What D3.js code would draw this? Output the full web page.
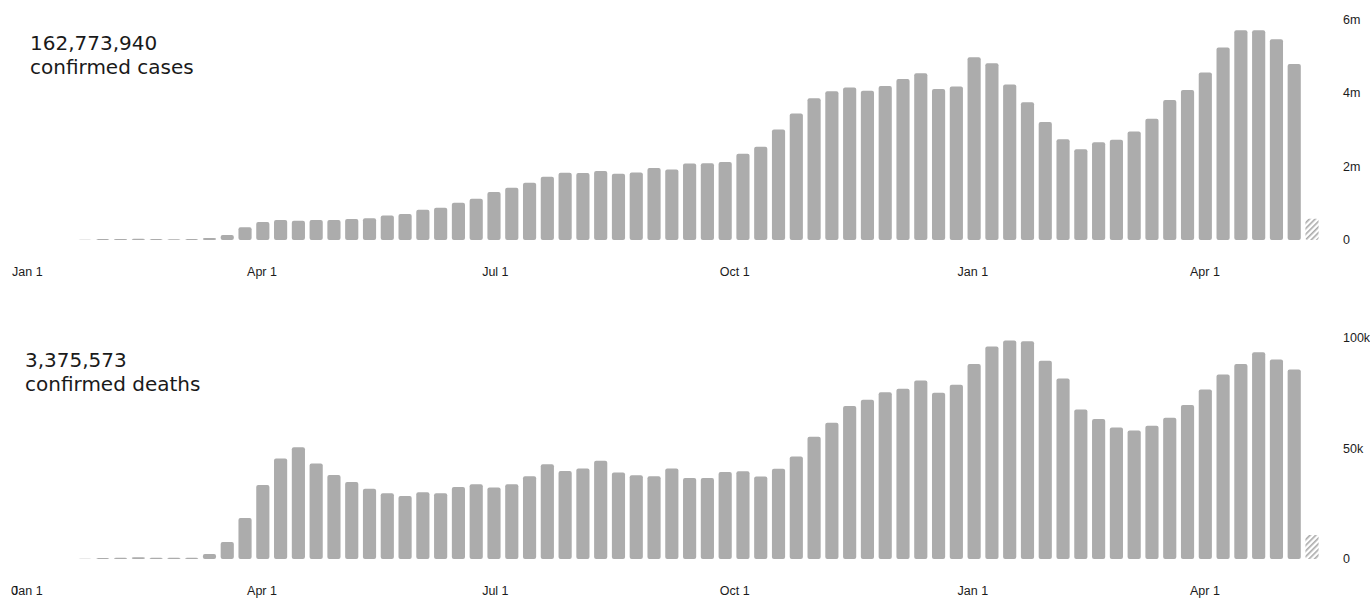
<!DOCTYPE html>
<html>
<head>
<meta charset="utf-8">
<script src="https://cdn.jsdelivr.net/npm/d3@7"></script>
<style>
  html, body { margin: 0; padding: 0; background: #fff; }
  svg { display: block; }
  .big { font-family: "DejaVu Sans", Verdana, sans-serif; font-size: 20px; fill: #1a1a1a; }
  .tick { font-family: "Liberation Sans", Arial, sans-serif; font-size: 12.5px; fill: #1c1c1c; }
</style>
</head>
<body>
<svg id="chart" width="1370" height="598"></svg>
<script>
// ---- data (weekly, starting week of Jan 22, 2020) ----
const casesMillions = [
  0.005, 0.025, 0.03, 0.035, 0.025, 0.022, 0.025, 0.055, 0.136, 0.345,
  0.49, 0.544, 0.526, 0.544, 0.544, 0.571, 0.59, 0.67, 0.71, 0.825,
  0.88, 1.016, 1.125, 1.306, 1.424, 1.56, 1.72, 1.83, 1.82, 1.88,
  1.805, 1.84, 1.96, 1.92, 2.08, 2.09, 2.12, 2.35, 2.54, 3.01,
  3.44, 3.86, 4.05, 4.15, 4.06, 4.19, 4.38, 4.54, 4.11, 4.18,
  4.97, 4.81, 4.23, 3.75, 3.21, 2.74, 2.47, 2.66, 2.73, 2.95,
  3.30, 3.81, 4.08, 4.56, 5.24, 5.71, 5.71, 5.46, 4.79, 0.58
];
const deathsThousands = [
  0.1, 0.4, 0.6, 0.8, 0.6, 0.6, 0.6, 2.3, 7.7, 18.5,
  33.5, 45.5, 50.6, 43.2, 38.0, 34.8, 31.8, 29.7, 28.5, 30.2,
  29.8, 32.6, 33.8, 32.4, 33.8, 37.4, 42.9, 39.8, 40.9, 44.5,
  39.1, 37.9, 37.4, 40.9, 36.7, 36.7, 39.4, 39.7, 37.3, 40.8,
  46.4, 55.3, 61.7, 69.2, 72.1, 75.5, 77.0, 80.8, 75.2, 78.9,
  88.2, 96.2, 98.9, 98.5, 89.7, 81.7, 67.6, 63.3, 59.5, 58.2,
  60.3, 63.9, 69.7, 76.7, 83.5, 88.2, 93.6, 90.3, 85.8, 10.9
];
const partialWeekIndex = 69; // last (incomplete) week drawn hatched
const totalCases = "162,773,940";
const totalDeaths = "3,375,573";
const casesLabel = "confirmed cases";
const deathsLabel = "confirmed deaths";
const xTickDates = ["2020-01-01", "2020-04-01", "2020-07-01", "2020-10-01", "2021-01-01", "2021-04-01"];
const xTickLabels = ["Jan 1", "Apr 1", "Jul 1", "Oct 1", "Jan 1", "Apr 1"];
const casesTicks = [0, 2, 4, 6];
const casesTickLabels = ["0", "2m", "4m", "6m"];
const deathsTicks = [0, 50, 100];
const deathsTickLabels = ["0", "50k", "100k"];

// ---- drawing ----
const svg = d3.select("#chart");
const firstWeek = new Date(2020, 0, 22);
const weeks = casesMillions.map((_, i) => d3.timeDay.offset(firstWeek, 7 * i));

const xBand = d3.scaleBand().domain(weeks.map(d => +d))
  .range([76.1, 1320.9]).paddingInner(0.26).paddingOuter(0.13);
const xTime = d3.scaleTime()
  .domain([new Date(2020, 0, 1), new Date(2021, 3, 1)])
  .range([12, 1190]);
const parse = d3.timeParse("%Y-%m-%d");

const defs = svg.append("defs");
const pat = defs.append("pattern").attr("id", "hatch")
  .attr("patternUnits", "userSpaceOnUse").attr("width", 4).attr("height", 4)
  .attr("patternTransform", "rotate(45)");
pat.append("rect").attr("width", 4).attr("height", 4).attr("fill", "#fff");
pat.append("rect").attr("x", 0).attr("width", 1.6).attr("height", 4).attr("fill", "#a9a9a9");

function panel(values, yDomainMax, yRange, ticks, tickLabels, axisY, bigText, smallText, textX, textY) {
  const y = d3.scaleLinear().domain([0, yDomainMax]).range(yRange);
  const g = svg.append("g");
  g.selectAll("rect.bar").data(values).join("rect")
    .attr("class", "bar")
    .attr("x", (d, i) => xBand(+weeks[i]))
    .attr("width", xBand.bandwidth())
    .attr("y", d => y(d))
    .attr("height", d => y(0) - y(d))
    .attr("rx", 2).attr("ry", 2)
    .attr("fill", (d, i) => i === partialWeekIndex ? "url(#hatch)" : "#acacac");

  // right y labels
  g.selectAll("text.ylab").data(ticks).join("text")
    .attr("class", "tick")
    .attr("x", 1343)
    .attr("y", d => y(d))
    .attr("dy", "0.35em")
    .text((d, i) => tickLabels[i]);

  // x labels
  g.selectAll("text.xlab").data(xTickDates).join("text")
    .attr("class", "tick")
    .attr("x", d => xTime(parse(d)))
    .attr("y", axisY)
    .attr("dy", "0.35em")
    .text((d, i) => xTickLabels[i]);

  g.append("text").attr("class", "big").attr("x", textX).attr("y", textY).text(bigText);
  g.append("text").attr("class", "big").attr("x", textX).attr("y", textY + 24).text(smallText);
  return y;
}

panel(casesMillions, 6, [240, 19.5], casesTicks, casesTickLabels, 272, totalCases, casesLabel, 30, 50);
panel(deathsThousands, 100, [559, 338], deathsTicks, deathsTickLabels, 591, totalDeaths, deathsLabel, 25, 367);

// overlapping stray "0" seen over the bottom-left "Jan 1" in the reference
svg.append("text").attr("class", "tick").attr("x", 11).attr("y", 591).attr("dy", "0.35em").text("0");
</script>
</body>
</html>
